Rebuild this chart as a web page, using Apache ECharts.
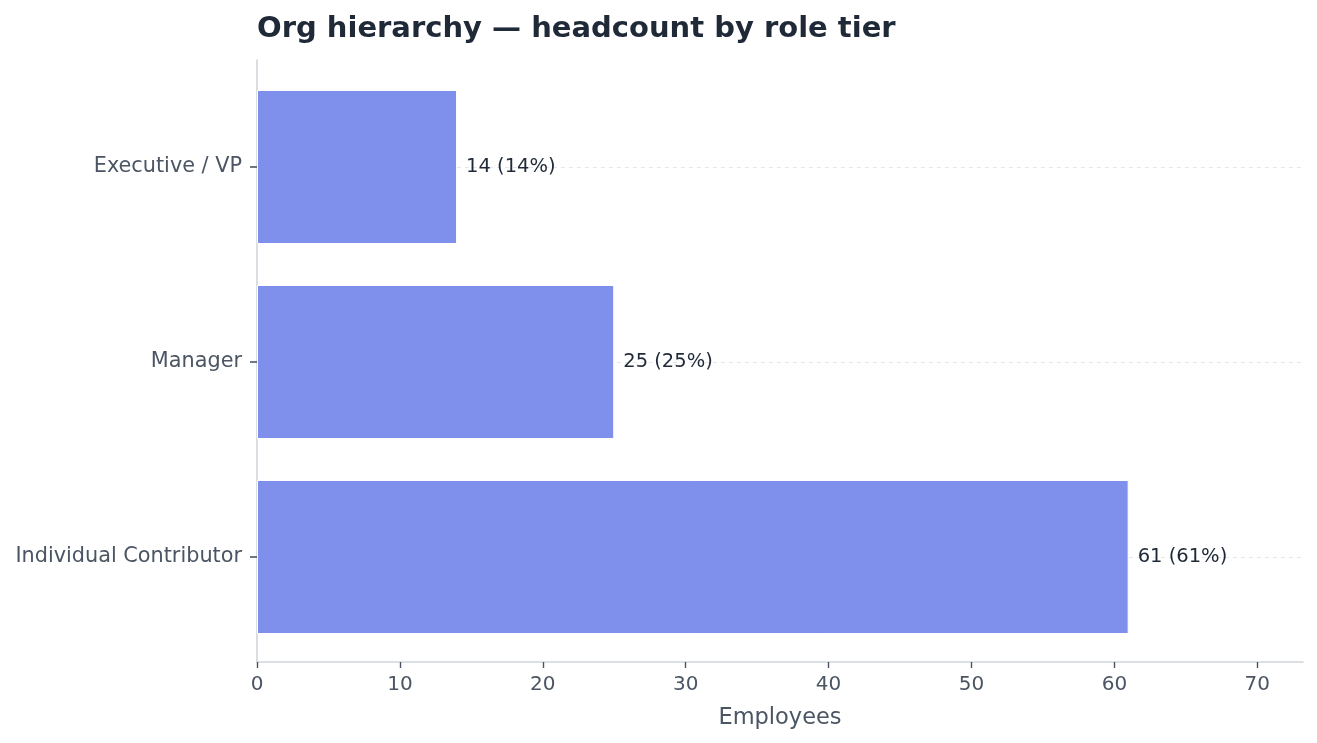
<!DOCTYPE html>
<html>
<head>
<meta charset="utf-8">
<style>
  html, body { margin: 0; padding: 0; background: #ffffff; }
  #chart { width: 1317px; height: 743px; }
</style>
<script src="https://cdn.jsdelivr.net/npm/echarts@6/dist/echarts.min.js"></script>
</head>
<body>
<div id="chart"></div>
<script>
// 数据
const tiers = ['Executive / VP', 'Manager', 'Individual Contributor'];
const headcount = [14, 25, 61];
const xTicks = [0, 10, 20, 30, 40, 50, 60, 70];

const total = headcount.reduce((a, b) => a + b, 0);
const xMax = Math.max(...headcount) * 1.2;
const font = 'DejaVu Sans';

const chart = echarts.init(document.getElementById('chart'));

const option = {
  backgroundColor: '#ffffff',
  animation: false,
  title: {
    text: 'Org hierarchy — headcount by role tier',
    left: 252,
    top: 10,
    textStyle: {
      fontFamily: font,
      fontSize: 29,
      fontWeight: 'bold',
      color: '#1f2937'
    }
  },
  grid: [
    // 外框坐标轴
    { left: 257, right: 14, top: 60, bottom: 81 },
    // 柱子区域
    { left: 257, right: 14, top: 69.5, bottom: 88.5 }
  ],
  xAxis: [
    {
      gridIndex: 0,
      type: 'value',
      min: 0,
      max: xMax,
      interval: 10,
      name: 'Employees',
      nameLocation: 'middle',
      nameGap: 45,
      nameTextStyle: { fontFamily: font, fontSize: 22.5, color: '#4b5563' },
      axisLine: { show: true, lineStyle: { color: '#d1d5db', width: 1.6 } },
      axisTick: { show: true, length: 6, lineStyle: { color: '#4b5563', width: 1.4 } },
      axisLabel: {
        fontFamily: font, fontSize: 20, color: '#4b5563', margin: 13,
        showMaxLabel: false,
        formatter: v => (xTicks.indexOf(v) >= 0 ? String(v) : '')
      },
      splitLine: { show: false }
    },
    {
      gridIndex: 1,
      type: 'value',
      min: 0,
      max: xMax,
      show: false,
      splitLine: { show: false }
    }
  ],
  yAxis: [
    {
      gridIndex: 0,
      type: 'value',
      min: 0,
      max: 1,
      axisLine: { show: true, lineStyle: { color: '#d1d5db', width: 1.6 } },
      axisTick: { show: false },
      axisLabel: { show: false },
      splitLine: { show: false }
    },
    {
      gridIndex: 1,
      type: 'category',
      data: tiers,
      inverse: true,
      axisLine: { show: false },
      axisTick: { show: true, alignWithLabel: true, length: 7, lineStyle: { color: '#4b5563', width: 1.6 } },
      axisLabel: { fontFamily: font, fontSize: 20.8, color: '#4b5563', margin: 15 },
      splitLine: {
        show: true,
        alignWithLabel: true,
        lineStyle: { color: '#e5e7eb', type: [4, 4], width: 1 }
      }
    }
  ],
  series: [{
    type: 'bar',
    xAxisIndex: 1,
    yAxisIndex: 1,
    data: headcount,
    barCategoryGap: '21%',
    itemStyle: {
      color: 'rgba(104, 125, 233, 0.85)',
      borderColor: '#ffffff',
      borderWidth: 1
    },
    label: {
      show: true,
      position: 'right',
      distance: 9,
      fontFamily: font,
      fontSize: 19.5,
      color: '#1f2937',
      formatter: p => p.value + ' (' + Math.round(p.value / total * 100) + '%)'
    }
  }]
};

chart.setOption(option);
</script>
</body>
</html>
